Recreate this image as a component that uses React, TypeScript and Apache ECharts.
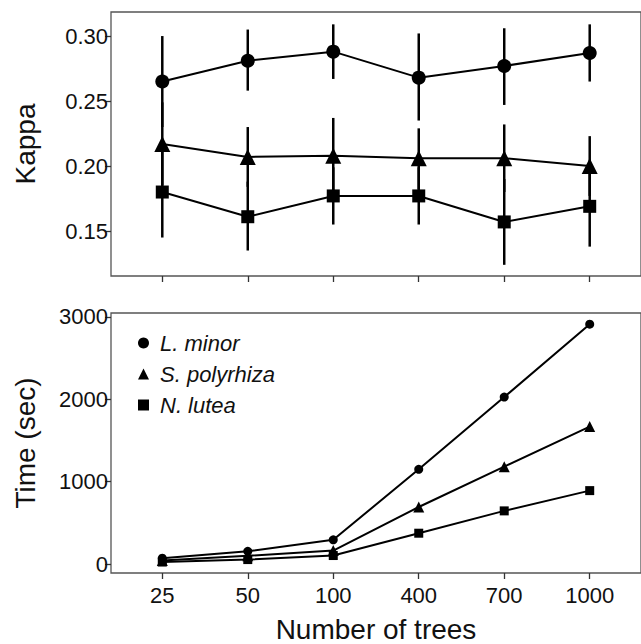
import React, { useEffect, useRef } from "react";
import * as echarts from "echarts";

const categories = ["25", "50", "100", "400", "700", "1000"];
const seriesNames = ["L. minor", "S. polyrhiza", "N. lutea"];

const kappaLMinor = [0.265, 0.281, 0.288, 0.268, 0.277, 0.287];
const kappaLMinorLow = [0.23, 0.258, 0.267, 0.235, 0.247, 0.265];
const kappaLMinorHigh = [0.3, 0.305, 0.309, 0.302, 0.306, 0.309];

const kappaSPoly = [0.217, 0.207, 0.208, 0.206, 0.206, 0.2];
const kappaSPolyLow = [0.185, 0.184, 0.179, 0.182, 0.18, 0.177];
const kappaSPolyHigh = [0.249, 0.23, 0.237, 0.229, 0.232, 0.223];

const kappaNLutea = [0.18, 0.161, 0.177, 0.177, 0.157, 0.169];
const kappaNLuteaLow = [0.145, 0.135, 0.155, 0.155, 0.124, 0.138];
const kappaNLuteaHigh = [0.215, 0.188, 0.199, 0.199, 0.19, 0.2];

const timeLMinor = [72, 155, 295, 1151, 2028, 2912];
const timeSPoly = [45, 100, 164, 693, 1183, 1669];
const timeNLutea = [25, 55, 104, 375, 646, 892];

const kappaTicks = [0.15, 0.2, 0.25, 0.3];
const timeTicks = [0, 1000, 2000, 3000];

const FONT = "'Liberation Sans', Arial, sans-serif";
const TEXT = "#111";

export default function App() {
  const ref = useRef<HTMLDivElement>(null);
  useEffect(() => {
    if (!ref.current) return;
    const chart = echarts.init(ref.current, null, { renderer: "svg" });
    const idx = categories.map((_, i) => i);
    const pairs = (vals: number[]) => vals.map((v, i) => [i, v]);
    const bars = (lo: number[], hi: number[]) => lo.map((l, i) => [i, l, hi[i]]);

    const xAxisBase = (gridIndex: number, showLabels: boolean, name?: string) => ({
      type: "value",
      gridIndex,
      min: -0.6,
      max: 5.6,
      splitLine: { show: false },
      axisLine: { show: false, onZero: false },
      axisTick: {
        show: true,
        customValues: idx,
        length: 6,
        lineStyle: { color: "#333", width: 1.3 },
      },
      axisLabel: {
        show: showLabels,
        customValues: idx,
        formatter: (v: number) => categories[Math.round(v)] ?? "",
        fontSize: 22,
        fontFamily: FONT,
        color: TEXT,
        margin: 11,
      },
      name: name,
      nameLocation: "middle",
      nameGap: 42,
      nameTextStyle: { fontSize: 28, fontFamily: FONT, color: TEXT },
    });

    const symbols = ["circle", "triangle", "rect"];
    const topSizes = [14, 16, 13];
    const botSizes = [9, 11, 9];
    const kappaVals = [kappaLMinor, kappaSPoly, kappaNLutea];
    const kappaLows = [kappaLMinorLow, kappaSPolyLow, kappaNLuteaLow];
    const kappaHighs = [kappaLMinorHigh, kappaSPolyHigh, kappaNLuteaHigh];
    const timeVals = [timeLMinor, timeSPoly, timeNLutea];

    const series: any[] = [];
    seriesNames.forEach((name, s) => {
      series.push({
        type: "custom",
        name,
        xAxisIndex: 0,
        yAxisIndex: 0,
        encode: { x: 0, y: [1, 2] },
        data: bars(kappaLows[s], kappaHighs[s]),
        renderItem: (params: any, api: any) => {
          const p1 = api.coord([api.value(0), api.value(1)]);
          const p2 = api.coord([api.value(0), api.value(2)]);
          return {
            type: "line",
            shape: { x1: p1[0], y1: p1[1], x2: p2[0], y2: p2[1] },
            style: { stroke: "#000", lineWidth: 2.5 },
          };
        },
        z: 1,
      });
      series.push({
        type: "line",
        name,
        xAxisIndex: 0,
        yAxisIndex: 0,
        data: pairs(kappaVals[s]),
        symbol: symbols[s],
        symbolSize: topSizes[s],
        showAllSymbol: true,
        lineStyle: { color: "#000", width: 2 },
        itemStyle: { color: "#000" },
        z: 2,
      });
      series.push({
        type: "line",
        name,
        xAxisIndex: 1,
        yAxisIndex: 1,
        data: pairs(timeVals[s]),
        symbol: symbols[s],
        symbolSize: botSizes[s],
        showAllSymbol: true,
        lineStyle: { color: "#000", width: 2 },
        itemStyle: { color: "#000" },
        z: 2,
      });
    });

    const yAxisBase = (gridIndex: number, min: number, max: number, ticks: number[], fmt: (v: number) => string, name: string) => ({
      type: "value",
      gridIndex,
      min,
      max,
      splitLine: { show: false },
      axisLine: { show: false, onZero: false },
      axisTick: {
        show: true,
        customValues: ticks,
        length: 6,
        lineStyle: { color: "#333", width: 1.3 },
      },
      axisLabel: {
        customValues: ticks,
        formatter: fmt,
        fontSize: 22,
        fontFamily: FONT,
        color: TEXT,
        margin: 3,
      },
      name,
      nameLocation: "middle",
      nameRotate: 90,
      nameGap: 72,
      nameTextStyle: { fontSize: 28, fontFamily: FONT, color: TEXT },
    });

    chart.setOption({
      animation: false,
      backgroundColor: "#fff",
      grid: [
        { left: 111, right: -2, top: 12, height: 264, show: true, borderColor: "#555", borderWidth: 1.3, backgroundColor: "transparent" },
        { left: 111, right: -2, top: 313, height: 264, show: true, borderColor: "#555", borderWidth: 1.3, backgroundColor: "transparent" },
      ],
      xAxis: [xAxisBase(0, false), xAxisBase(1, true, "Number of trees")],
      yAxis: [
        yAxisBase(0, 0.1154, 0.3185, kappaTicks, (v: number) => v.toFixed(2), "Kappa"),
        yAxisBase(1, -108, 3048, timeTicks, (v: number) => String(Math.round(v)), "Time (sec)"),
      ],
      legend: {
        orient: "vertical",
        left: 133,
        top: 327,
        itemWidth: 11,
        itemHeight: 11,
        itemGap: 9,
        data: [
          { name: seriesNames[0], icon: "circle" },
          { name: seriesNames[1], icon: "triangle" },
          { name: seriesNames[2], icon: "rect" },
        ],
        itemStyle: { color: "#000" },
        textStyle: { fontSize: 22, fontStyle: "italic", fontFamily: FONT, color: TEXT, lineHeight: 22, padding: [0, 0, 0, 6] },
        selectedMode: false,
      },
      series,
    });
    return () => chart.dispose();
  }, []);
  return <div ref={ref} style={{ position: "absolute", left: 0, top: 0, width: 641, height: 644 }} />;
}
